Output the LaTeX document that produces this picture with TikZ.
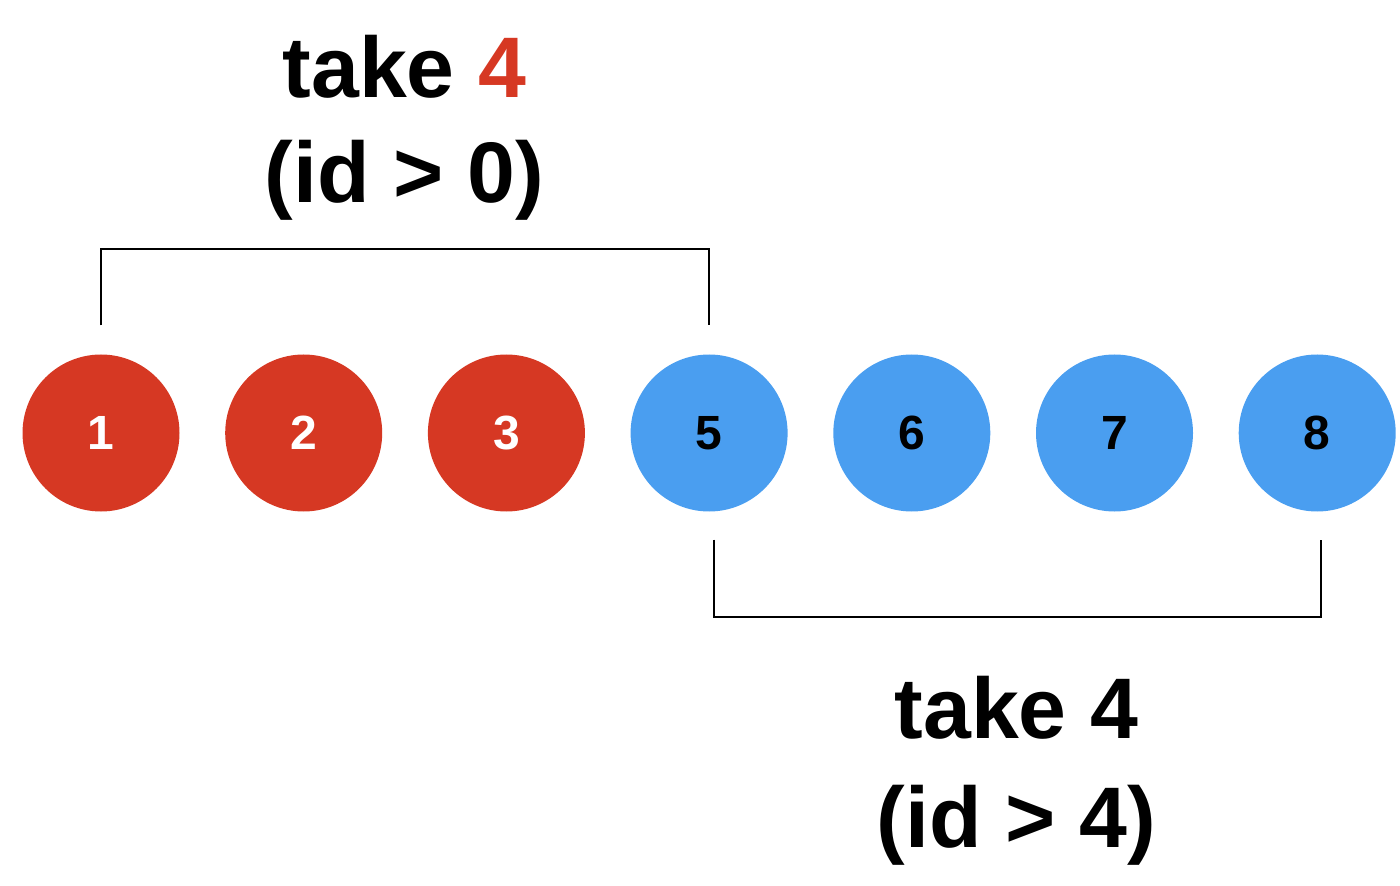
\documentclass[tikz,border=0pt]{standalone}
\usepackage{fontspec}
\setmainfont{Liberation Sans}
\usepackage{xcolor}
\usetikzlibrary{positioning}
\definecolor{takered}{RGB}{214,56,35}
\definecolor{takeblue}{RGB}{74,158,240}

\begin{document}
\begin{tikzpicture}[x=1pt,y=1pt]
    \tikzset{ball/.style={shape=circle,minimum size=157pt,inner sep=0pt,font=\fontsize{48}{48}\selectfont\bfseries}}
    \tikzset{redball/.style={ball,fill=takered,text=white}}
    \tikzset{blueball/.style={ball,fill=takeblue,text=black}}
    \tikzset{bracket/.style={draw,line width=2pt}}
    \tikzset{caption/.style={anchor=base,inner sep=0pt,font=\fontsize{86}{86}\selectfont\bfseries}}
    \useasboundingbox (0,-453) rectangle (1400,433);
    \node[redball] (n1) at (101,0) {1};
    \node[redball] (n2) [right=45.3pt of n1] {2};
    \node[redball] (n3) [right=45.3pt of n2] {3};
    \node[blueball] (n5) [right=45.3pt of n3] {5};
    \node[blueball] (n6) [right=45.3pt of n5] {6};
    \node[blueball] (n7) [right=45.3pt of n6] {7};
    \node[blueball] (n8) [right=45.3pt of n7] {8};

    \draw[bracket] ([yshift=29pt]n1.north) -- ++(0,76) -| ([yshift=29pt]n5.north);
    \draw[bracket] ([xshift=5pt,yshift=-28pt]n5.south) -- ++(0,-77) -| ([xshift=4pt,yshift=-28pt]n8.south);

    \node[caption] (first) at (404.5,335) {take \textcolor{takered}{4}};
    \node[caption] (firstcond) at (404.5,230) {(id > 0)};
    \node[caption] (second) at (1016.5,-305) {take 4};
    \node[caption] (secondcond) at (1016.5,-414) {(id > 4)};
  \end{tikzpicture}
\end{document}
